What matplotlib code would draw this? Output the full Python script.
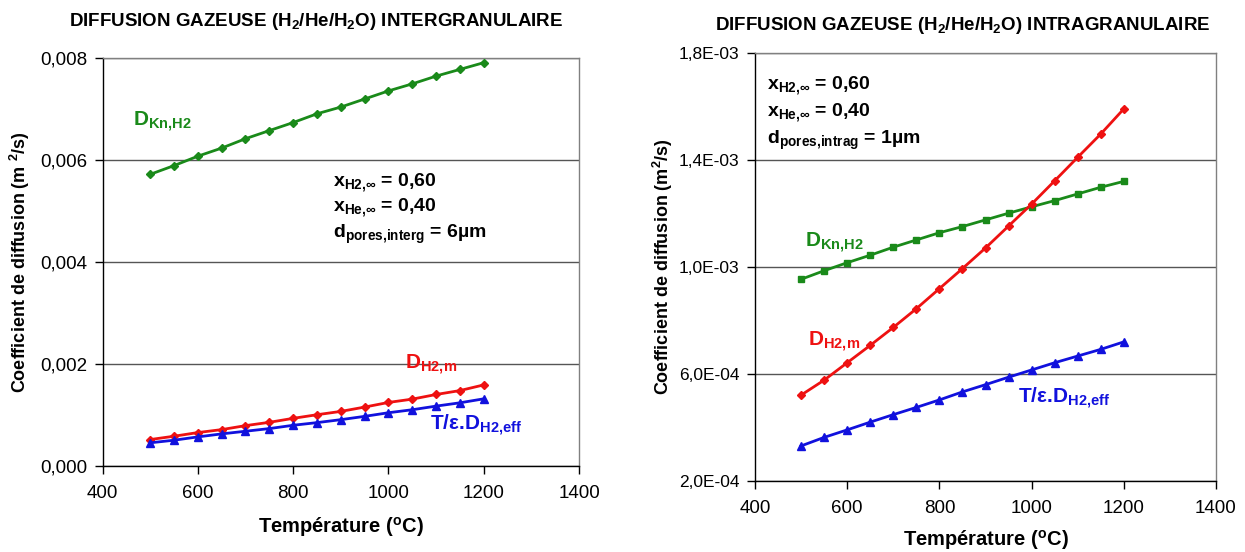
import matplotlib
matplotlib.use("Agg")
import matplotlib.pyplot as plt
from matplotlib.ticker import FuncFormatter, FixedLocator

plt.rcParams['font.family'] = ['Liberation Sans', 'DejaVu Sans']
plt.rcParams['mathtext.fontset'] = 'custom'
plt.rcParams['mathtext.rm'] = 'Liberation Sans:bold'
plt.rcParams['mathtext.it'] = 'Liberation Sans:bold'
plt.rcParams['mathtext.bf'] = 'Liberation Sans:bold'
plt.rcParams['mathtext.default'] = 'rm'

# ---- data ----
temperature = [500, 550, 600, 650, 700, 750, 800, 850, 900, 950, 1000, 1050, 1100, 1150, 1200]

# Intergranular (left)
inter_dkn = [0.005723, 0.005894, 0.006079, 0.006238, 0.006422, 0.006581, 0.006739, 0.006911,
             0.007043, 0.007201, 0.007360, 0.007498, 0.007650, 0.007782, 0.007914]
inter_dm = [0.000519, 0.000584, 0.000656, 0.000714, 0.000792, 0.000857, 0.000935, 0.001006,
            0.001071, 0.001156, 0.001247, 0.001312, 0.001403, 0.001480, 0.001591]
inter_deff = [0.000455, 0.000506, 0.000571, 0.000630, 0.000682, 0.000734, 0.000799, 0.000851,
              0.000909, 0.000974, 0.001045, 0.001104, 0.001175, 0.001240, 0.001318]

# Intragranular (right)
intra_dkn = [9.53e-4, 9.85e-4, 1.015e-3, 1.043e-3, 1.073e-3, 1.100e-3, 1.127e-3, 1.150e-3,
             1.175e-3, 1.200e-3, 1.224e-3, 1.247e-3, 1.272e-3, 1.297e-3, 1.319e-3]
intra_dm = [5.20e-4, 5.76e-4, 6.41e-4, 7.06e-4, 7.73e-4, 8.43e-4, 9.18e-4, 9.93e-4,
            1.070e-3, 1.152e-3, 1.234e-3, 1.321e-3, 1.409e-3, 1.496e-3, 1.590e-3]
intra_deff = [3.30e-4, 3.62e-4, 3.90e-4, 4.19e-4, 4.47e-4, 4.74e-4, 5.02e-4, 5.32e-4,
              5.59e-4, 5.87e-4, 6.14e-4, 6.41e-4, 6.66e-4, 6.91e-4, 7.19e-4]

x_ticks = [400, 600, 800, 1000, 1200, 1400]
left_yticks = [0.000, 0.002, 0.004, 0.006, 0.008]
right_yticks = [2.0e-4, 6.0e-4, 1.0e-3, 1.4e-3, 1.8e-3]

GREEN = '#1a8a1a'
RED = '#ee1111'
BLUE = '#1111dd'
BORDER = '#808080'
GRID = '#555555'

fig = plt.figure(figsize=(12.45, 5.52), dpi=100)
axL = fig.add_axes([102.5 / 1245, 1 - 466 / 552, (579 - 102.5) / 1245, (466 - 58.3) / 552])
axR = fig.add_axes([755 / 1245, 1 - 480.7 / 552, (1216 - 755) / 1245, (480.7 - 52.7) / 552])


def style(ax, yticks, fmt, ysize):
    ax.set_xlim(400, 1400)
    ax.set_ylim(yticks[0], yticks[-1])
    ax.xaxis.set_major_locator(FixedLocator(x_ticks))
    ax.yaxis.set_major_locator(FixedLocator(yticks))
    ax.yaxis.set_major_formatter(FuncFormatter(fmt))
    ax.tick_params(axis='both', direction='out', length=6, width=1, color='black', pad=5)
    ax.tick_params(axis='x', pad=8, labelsize=13.5)
    ax.tick_params(axis='y', labelsize=ysize)
    for s in ['top', 'right']:
        ax.spines[s].set_color(BORDER)
        ax.spines[s].set_linewidth(1)
    for s in ['left', 'bottom']:
        ax.spines[s].set_color('black')
        ax.spines[s].set_linewidth(1)
    ax.grid(axis='y', color=GRID, linewidth=1)
    ax.set_axisbelow(True)


def fmt_left(v, pos):
    return ('%.3f' % v).replace('.', ',')


def fmt_right(v, pos):
    s = '%.1E' % v
    return s.replace('.', ',')


style(axL, left_yticks, fmt_left, 13.5)
style(axR, right_yticks, fmt_right, 12.5)

XLAB = 'Température ($^{\\mathrm{o}}$C)'
axL.set_xlabel(XLAB, fontsize=14.5, fontweight='bold', labelpad=9)
axR.set_xlabel(XLAB, fontsize=14.5, fontweight='bold', labelpad=8)

LBL = 15
INFO = 14

# Left chart
axL.plot(temperature, inter_dkn, color=GREEN, lw=2, marker='D', ms=4.5, zorder=3)
axL.plot(temperature, inter_dm, color=RED, lw=2, marker='D', ms=4.5, zorder=3)
axL.plot(temperature, inter_deff, color=BLUE, lw=2, marker='^', ms=6, zorder=3)
axL.set_ylabel('Coefficient de diffusion (m $^{2}$/s)', fontsize=13, fontweight='bold', labelpad=6)

axL.text(464, 0.00675, 'D$_{\\mathrm{Kn{,}H2}}$', color=GREEN, fontsize=LBL, fontweight='bold',
         ha='left', va='center')
axL.text(1035, 0.00198, 'D$_{\\mathrm{H2{,}m}}$', color=RED, fontsize=LBL, fontweight='bold',
         ha='left', va='center')
axL.text(1088, 0.00080, 'T/ε.D$_{\\mathrm{H2{,}eff}}$', color=BLUE, fontsize=LBL, fontweight='bold',
         ha='left', va='center')
axL.text(884, 0.00557, 'x$_{\\mathrm{H2{,}∞}}$ = 0,60', fontsize=INFO, fontweight='bold',
         ha='left', va='center')
axL.text(884, 0.00508, 'x$_{\\mathrm{He{,}∞}}$ = 0,40', fontsize=INFO, fontweight='bold',
         ha='left', va='center')
axL.text(884, 0.00455, 'd$_{\\mathrm{pores{,}interg}}$ = 6µm', fontsize=INFO, fontweight='bold',
         ha='left', va='center')

# Right chart
axR.plot(temperature, intra_dkn, color=GREEN, lw=2, marker='s', ms=5, zorder=3)
axR.plot(temperature, intra_dm, color=RED, lw=2, marker='D', ms=4.5, zorder=3)
axR.plot(temperature, intra_deff, color=BLUE, lw=2, marker='^', ms=6, zorder=3)
axR.set_ylabel('Coefficient de diffusion (m$^{2}$/s)', fontsize=13, fontweight='bold', labelpad=3)

axR.text(509, 1.089e-3, 'D$_{\\mathrm{Kn{,}H2}}$', color=GREEN, fontsize=LBL, fontweight='bold',
         ha='left', va='center')
axR.text(515, 7.18e-4, 'D$_{\\mathrm{H2{,}m}}$', color=RED, fontsize=LBL, fontweight='bold',
         ha='left', va='center')
axR.text(970, 5.09e-4, 'T/ε.D$_{\\mathrm{H2{,}eff}}$', color=BLUE, fontsize=LBL, fontweight='bold',
         ha='left', va='center')
axR.text(426, 1.679e-3, 'x$_{\\mathrm{H2{,}∞}}$ = 0,60', fontsize=INFO, fontweight='bold',
         ha='left', va='center')
axR.text(426, 1.578e-3, 'x$_{\\mathrm{He{,}∞}}$ = 0,40', fontsize=INFO, fontweight='bold',
         ha='left', va='center')
axR.text(426, 1.474e-3, 'd$_{\\mathrm{pores{,}intrag}}$ = 1µm', fontsize=INFO, fontweight='bold',
         ha='left', va='center')

fig.text(316 / 1245, 1 - 21 / 552, 'DIFFUSION GAZEUSE (H$_{2}$/He/H$_{2}$O) INTERGRANULAIRE',
         fontsize=13.5, fontweight='bold', ha='center', va='center')
fig.text(963 / 1245, 1 - 25 / 552, 'DIFFUSION GAZEUSE (H$_{2}$/He/H$_{2}$O) INTRAGRANULAIRE',
         fontsize=13.5, fontweight='bold', ha='center', va='center')

fig.savefig('out.png', dpi=100, facecolor='white')
